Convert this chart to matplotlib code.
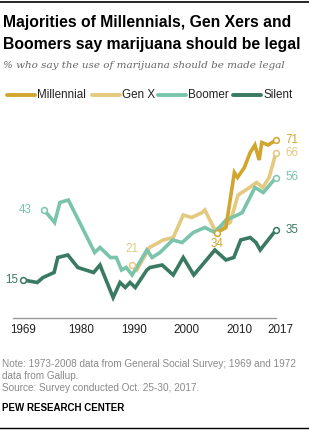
import matplotlib
matplotlib.use("Agg")
import matplotlib.pyplot as plt
from matplotlib.lines import Line2D
import matplotlib.transforms as mtransforms

# Values (year, % saying marijuana should be legal)
mill_years = [2005.8, 2007.5, 2009.1, 2009.7, 2011.0, 2012.1, 2013.0, 2013.8, 2014.3, 2015.5, 2017]
mill_vals = [34, 36, 58, 56, 60, 66, 69, 63, 70, 69, 71]

genx_years = [1989.6, 1990.6, 1993.0, 1995.6, 1997.5, 1999.4, 2001.0, 2003.0, 2003.5, 2005.4,
              2008.3, 2009.8, 2012.0, 2013.3, 2014.5, 2015.7, 2017]
genx_vals = [21, 19, 28, 31, 32, 41, 40, 42, 43, 35, 38, 49, 52, 54, 52, 56, 66]

boom_years = [1973, 1975, 1976, 1977.6, 1982.6, 1983.6, 1985.6, 1986.7, 1987.7, 1988.6, 1989.7,
              1992.5, 1993.5, 1995, 1997.4, 1999.2, 2001.3, 2003.5, 2005.4, 2007.5, 2009.7,
              2010.6, 2013.0, 2014.6, 2017]
boom_vals = [43, 38, 46, 47, 26, 28, 24, 24, 19, 20, 17, 27, 24, 26, 31, 30, 34, 36, 34, 39, 41,
             42, 52, 50, 56]

silent_years = [1969, 1971.7, 1972.8, 1974.9, 1975.6, 1977.5, 1979.4, 1982.4, 1983.6, 1986.1,
                1987.4, 1988.4, 1989.3, 1990.3, 1992.5, 1993.1, 1995.4, 1997.5, 1999.4, 2001.4,
                2005.4, 2007.5, 2009.0, 2010.3, 2012.1, 2013.2, 2014.0, 2017]
silent_vals = [15, 14, 16, 18, 24, 25, 20, 18, 21, 8, 14, 12, 14, 12, 19, 20, 21, 17, 24, 17,
               27, 23, 24, 31, 32, 30, 27, 35]

tick_years = [1969, 1980, 1990, 2000, 2010, 2017]

c_mill = "#D1A52E"
c_genx = "#E5C980"
c_boom = "#7BC4AC"
c_silent = "#3A7A62"

W, H = 309, 430
fig = plt.figure(figsize=(W / 100, H / 100), dpi=100)

# axes placed so 1969 -> x=23px, 2017 -> x=276px, 0 -> y=317.5px, 80 -> y=117.5px
ax = fig.add_axes([23 / W, (H - 317.5) / H, 253 / W, 200 / H])
ax.set_xlim(1969, 2017)
ax.set_ylim(0, 80)
for s in ax.spines.values():
    s.set_visible(False)
ax.set_yticks([])
ax.set_xticks(tick_years)
ax.set_xticklabels([str(y) for y in tick_years], fontsize=8.4, color="#222222",
                   family="Liberation Sans")
ax.tick_params(axis="x", length=0, pad=5)
lab = ax.get_xticklabels()[-1]
lab.set_transform(lab.get_transform() + mtransforms.ScaledTranslation(4 / 100, 0, fig.dpi_scale_trans))
ax.axhline(0, xmin=-0.04, xmax=1.0, color="#9a9a9a", lw=1, clip_on=False)

lw = 2.6
series = [
    (silent_years, silent_vals, c_silent),
    (genx_years, genx_vals, c_genx),
    (boom_years, boom_vals, c_boom),
    (mill_years, mill_vals, c_mill),
]
for xs, ys, c in series:
    ax.plot(xs, ys, color=c, lw=lw, solid_joinstyle="miter", clip_on=False)
    ax.plot([xs[0], xs[-1]], [ys[0], ys[-1]], "o", ms=4.2, mfc="white", mec=c, mew=1.1,
            clip_on=False, ls="none", zorder=5)

lbl_kw = dict(fontsize=8.4, family="Liberation Sans", clip_on=False)
for xs, ys, c in series:
    ax.annotate(str(ys[-1]), (xs[-1], ys[-1]), xytext=(7, 0), textcoords="offset points",
                ha="left", va="center", color=c, **lbl_kw)
ax.annotate(str(silent_vals[0]), (silent_years[0], silent_vals[0]), xytext=(-3.5, 0),
            textcoords="offset points", ha="right", va="center", color=c_silent, **lbl_kw)
ax.annotate(str(boom_vals[0]), (boom_years[0], boom_vals[0]), xytext=(-9, 0),
            textcoords="offset points", ha="right", va="center", color=c_boom, **lbl_kw)
ax.annotate(str(genx_vals[0]), (genx_years[0], genx_vals[0]), xytext=(0, 7),
            textcoords="offset points", ha="center", va="bottom", color=c_genx, **lbl_kw)
ax.annotate(str(mill_vals[0]), (mill_years[0], mill_vals[0]), xytext=(0, -4),
            textcoords="offset points", ha="center", va="top", color=c_mill, **lbl_kw)

# legend row
def fx(px):
    return px / W

def fy(py):
    return 1 - py / H

leg = [("Millennial", c_mill, 7, 35), ("Gen X", c_genx, 92, 120),
       ("Boomer", c_boom, 158, 186), ("Silent", c_silent, 233, 261)]
for name, c, x0, x1 in leg:
    fig.add_artist(Line2D([fx(x0), fx(x1)], [fy(95), fy(95)], color=c, lw=2.8,
                          solid_capstyle="round"))
    fig.text(fx(x1 + 2), fy(95), name, fontsize=8.4, family="Liberation Sans",
             color="#222222", va="center", ha="left")

# title block
fig.add_artist(Line2D([0, 1], [fy(1.5), fy(1.5)], color="black", lw=1.2))
fig.text(fx(3), fy(23), "Majorities of Millennials, Gen Xers and", fontsize=11.3,
         fontweight="bold", family="Liberation Sans", va="center", ha="left", color="black")
fig.text(fx(3), fy(44), "Boomers say marijuana should be legal", fontsize=11.3,
         fontweight="bold", family="Liberation Sans", va="center", ha="left", color="black")
fig.text(fx(3), fy(65), "% who say the use of marijuana should be made legal", fontsize=7.5,
         style="italic", family="DejaVu Serif", va="center", ha="left", color="#666666")

# notes
note_kw = dict(fontsize=7.2, family="Liberation Sans", color="#8a8a8a", va="center", ha="left")
fig.text(fx(2), fy(364), "Note: 1973-2008 data from General Social Survey; 1969 and 1972", **note_kw)
fig.text(fx(2), fy(376), "data from Gallup.", **note_kw)
fig.text(fx(2), fy(388), "Source: Survey conducted Oct. 25-30, 2017.", **note_kw)
fig.text(fx(2), fy(408), "PEW RESEARCH CENTER", fontsize=7.0, fontweight="bold",
         family="Liberation Sans", color="black", va="center", ha="left")
fig.add_artist(Line2D([0, 1], [fy(428), fy(428)], color="black", lw=1.0))

fig.savefig("out.png", dpi=100)
